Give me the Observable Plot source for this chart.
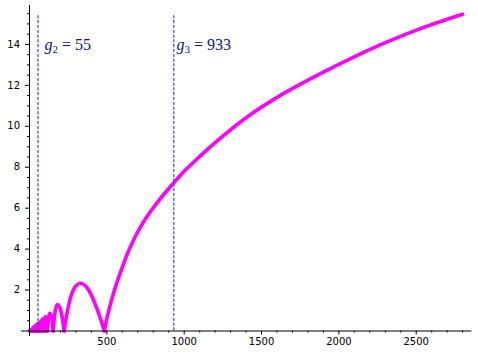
<!DOCTYPE html>
<html><head><meta charset="utf-8">
<script src="https://cdn.jsdelivr.net/npm/d3@7"></script>
<script src="https://cdn.jsdelivr.net/npm/@observablehq/plot@0.6"></script>
<style>body{margin:0;background:#fff} #chart svg{display:block}</style>
</head><body><div id="chart"></div>
<script>
// curve samples (x, |f(x)|); zeros split the arches
const curveX = [0, 2.4, 6, 8.4, 12, 14, 17, 19, 22, 24, 27, 29, 32, 34, 37, 38.6, 41, 43, 46, 48.4, 52, 54.8, 59, 62.6, 68, 72.4, 79,
  82, 85, 89, 94, 98, 103, 109, 116, 123, 131, 141, 153, 163, 170, 181, 195, 210, 224,
  240, 256, 275, 300, 328, 360, 390, 420, 450, 470, 484,
  500, 520, 540, 562, 599, 642, 690, 750, 832, 933, 1008, 1073, 1191, 1407, 1622, 1881, 2096, 2312, 2527, 2800];
const curveY = [0, 0.02, 0, 0.06, 0, 0.10, 0, 0.135, 0, 0.17, 0, 0.20, 0, 0.24, 0, 0.27, 0, 0.30, 0, 0.34, 0, 0.38, 0, 0.44, 0, 0.50, 0,
  0.42, 0.59, 0.50, 0, 0.50, 0.70, 0.58, 0, 0.62, 0.86, 0.72, 0, 0.80, 1.10, 1.29, 1.17, 0.72, 0,
  0.75, 1.35, 1.85, 2.20, 2.33, 2.22, 1.90, 1.40, 0.80, 0.35, 0,
  0.60, 1.22, 1.76, 2.30, 3.10, 3.93, 4.70, 5.48, 6.33, 7.24, 7.86, 8.33, 9.14, 10.45, 11.51, 12.57, 13.38, 14.12, 14.77, 15.47];

const markerX = [55, 933];
const markerLabel = ["g₂ = 55", "g₃ = 933"];
const markerTop = 15.46;
const labelX = [97, 950];

const xTicks = [500, 1000, 1500, 2000, 2500];
const yTicks = [2, 4, 6, 8, 10, 12, 14];
const xMinor = d3.range(100, 2900, 100).filter(v => v % 500 !== 0);
const yMinor = d3.range(0.5, 16, 0.5).filter(v => v % 2 !== 0);

const pts = [];
let seg = 0;
curveX.forEach((x, i) => {
  const y = curveY[i];
  pts.push({x, y, seg});
  if (y === 0 && i > 0 && i < curveX.length - 1) { seg++; pts.push({x, y, seg}); }
});

const chart = Plot.plot({
  width: 478, height: 356,
  marginLeft: 29, marginRight: 6.6, marginTop: 5, marginBottom: 25.5,
  x: {domain: [0, 2860]},
  y: {domain: [0, 15.9]},
  style: {fontFamily: "DejaVu Sans", fontSize: "10px", color: "black", background: "white"},
  marks: [
    Plot.line(pts, {x: "x", y: "y", z: "seg", stroke: "#ff00ff", strokeWidth: 3.6, curve: "catmull-rom", strokeLinecap: "round", strokeLinejoin: "round"}),
    Plot.ruleX(markerX, {x: d => d, y1: 0, y2: markerTop, stroke: "#4646c2", strokeWidth: 1.2, strokeDasharray: "3.2,1.6"}),
    Plot.ruleY([0], {x1: -52, x2: 2860, stroke: "black", strokeWidth: 1}),
    Plot.ruleX([0], {y1: -0.27, y2: 15.9, stroke: "black", strokeWidth: 1}),
    Plot.axisX(xTicks, {tickSize: 4, tickPadding: 3, tickFormat: d => String(d), label: null}),
    Plot.axisX(xMinor, {tickSize: 2, tickFormat: () => "", label: null}),
    Plot.axisY(yTicks, {tickSize: 4, tickPadding: 5.5, tickFormat: d => String(d), label: null}),
    Plot.axisY(yMinor, {tickSize: 2, tickFormat: () => "", label: null}),
    Plot.text(markerLabel, {x: (d, i) => labelX[i], y: 13.73, text: d => d, textAnchor: "start", lineAnchor: "bottom",
      fill: "#12128c", fontSize: 16, fontFamily: "Liberation Serif"})
  ]
});
document.getElementById("chart").appendChild(chart);

// typeset labels as g (italic) with subscript
chart.querySelectorAll("text").forEach(t => {
  const m = /^g([₂₃]) = (\d+)$/.exec(t.textContent);
  if (!m) return;
  const sub = m[1] === "₂" ? "2" : "3";
  const ns = "http://www.w3.org/2000/svg";
  t.textContent = "";
  const mk = (txt, attrs) => { const s = document.createElementNS(ns, "tspan"); s.textContent = txt; for (const k in attrs) s.setAttribute(k, attrs[k]); t.appendChild(s); };
  mk("g", {"font-style": "italic"});
  mk(sub, {"font-size": "11", dy: "3.5"});
  mk(" = ", {dy: "-3.5"});
  mk(m[2], {});
});
</script>
</body></html>
